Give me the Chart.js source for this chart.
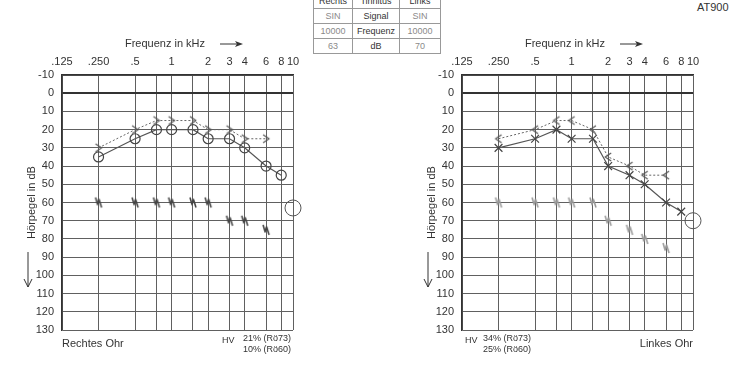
<!DOCTYPE html>
<html>
<head>
<meta charset="utf-8">
<script src="https://cdn.jsdelivr.net/npm/chart.js@4/dist/chart.umd.min.js"></script>
<style>
  body { margin:0; background:#fff; width:737px; height:379px; overflow:hidden; position:relative;
         font-family:"Liberation Sans", Arial, sans-serif; color:#333; }
  canvas { position:absolute; top:0; }
  .t { position:absolute; white-space:nowrap; line-height:1; }
  table { position:absolute; left:313px; top:-7px; border-collapse:collapse; font-size:9px; }
  td { border:1px solid #999; height:14px; padding:0; text-align:center; }
  td.v { color:#8a8a8a; }
  td.m { color:#333; }
</style>
</head>
<body>

<table>
  <tr><td class="m" style="width:38px;height:12px">Rechts</td><td class="m" style="width:46px">Tinnitus</td><td class="m" style="width:40px">Links</td></tr>
  <tr><td class="v">SIN</td><td class="m">Signal</td><td class="v">SIN</td></tr>
  <tr><td class="v">10000</td><td class="m">Frequenz</td><td class="v">10000</td></tr>
  <tr><td class="v">63</td><td class="m">dB</td><td class="v">70</td></tr>
</table>
<div class="t" style="left:697px;top:2px;font-size:11px">AT900</div>

<canvas id="right" width="370" height="379" style="left:0"></canvas>
<canvas id="left" width="337" height="379" style="left:400px"></canvas>

<div class="t" style="left:62px;top:338px;font-size:11px">Rechtes Ohr</div>
<div class="t" style="left:222px;top:336px;font-size:9px">HV</div>
<div class="t" style="left:243px;top:333px;font-size:9px;line-height:11px">21% (Rö73)<br>10% (Rö60)</div>

<div class="t" style="left:465px;top:336px;font-size:9px">HV</div>
<div class="t" style="left:483px;top:333px;font-size:9px;line-height:11px">34% (Rö73)<br>25% (Rö60)</div>
<div class="t" style="left:638px;top:338px;font-size:11px;width:55px;text-align:right">Linkes Ohr</div>

<script>
// frequencies in kHz
const FREQ = [0.25, 0.5, 0.75, 1, 1.5, 2, 3, 4, 6, 8];
const X_TICKS = [0.125, 0.25, 0.5, 0.75, 1, 1.5, 2, 3, 4, 6, 8, 10];
const X_LABELS = ['.125', '.250', '.5', '', '1', '', '2', '3', '4', '6', '8', '10'];

// Rechtes Ohr
const rightAir  = [35, 25, 20, 20, 20, 25, 25, 30, 40, 45];
const rightBone = [30, 20, 15, 15, 15, 20, 20, 25, 25];
const rightUcl  = [60, 60, 60, 60, 60, 60, 70, 70, 75];
const rightTinnitus = { freq: 10, db: 63 };

// Linkes Ohr
const leftAir  = [30, 25, 20, 25, 25, 40, 45, 50, 60, 65];
const leftBone = [25, 20, 15, 15, 20, 35, 40, 45, 45];
const leftUcl  = [60, 60, 60, 60, 60, 70, 75, 80, 85];
const leftTinnitus = { freq: 10, db: 70 };

Chart.defaults.font.family = '"Liberation Sans", Arial, sans-serif';
Chart.defaults.font.size = 11;
Chart.defaults.color = '#333';

const pts = (ys) => ys.map((y, i) => ({ x: FREQ[i], y: y }));

function symbol(w, h, draw, color, lw) {
  const c = document.createElement('canvas');
  c.width = w; c.height = h;
  const g = c.getContext('2d');
  g.strokeStyle = color; g.lineWidth = lw; g.lineJoin = 'round';
  g.beginPath(); draw(g); g.stroke();
  return c;
}
const gt = symbol(12, 12, g => { g.moveTo(3, 2); g.lineTo(9, 6); g.lineTo(3, 10); }, '#555', 1.2);
const lt = symbol(12, 12, g => { g.moveTo(9, 2); g.lineTo(3, 6); g.lineTo(9, 10); }, '#555', 1.2);
const squiggle = (col) => symbol(10, 14, g => {
  g.moveTo(2, 2); g.lineTo(4, 9); g.lineTo(5.5, 4); g.lineTo(8, 12);
}, col, 1.6);

const decor = {
  id: 'decor',
  afterDraw(chart) {
    const { ctx, chartArea: a } = chart;
    ctx.save();
    ctx.fillStyle = '#333'; ctx.strokeStyle = '#333'; ctx.lineWidth = 1;
    ctx.font = '11px "Liberation Sans", Arial, sans-serif';
    ctx.textAlign = 'center'; ctx.textBaseline = 'middle';
    ctx.fillText('Frequenz in kHz', a.left + 103, 44);
    const ax = a.left + 158;
    ctx.beginPath(); ctx.moveTo(ax, 44); ctx.lineTo(ax + 20, 44); ctx.stroke();
    ctx.beginPath(); ctx.moveTo(ax + 23, 44); ctx.lineTo(ax + 15, 41); ctx.lineTo(ax + 17, 44); ctx.lineTo(ax + 15, 47); ctx.closePath(); ctx.fill();
    // arrow down next to Hörpegel
    ctx.beginPath(); ctx.moveTo(28, 252); ctx.lineTo(28, 287); ctx.stroke();
    ctx.beginPath(); ctx.moveTo(24, 279); ctx.lineTo(28, 287); ctx.lineTo(32, 279); ctx.stroke();
    ctx.restore();
  }
};

function audiogram(id, padRight, air, bone, ucl, tin, airStyle, uclColor) {
  new Chart(document.getElementById(id), {
    type: 'line',
    data: {
      datasets: [
        {
          data: pts(bone), borderColor: '#666', borderWidth: 1, borderDash: [2, 2],
          pointStyle: bone === rightBone ? gt : lt, pointRadius: 6, tension: 0
        },
        {
          data: pts(air), borderColor: '#555', borderWidth: 1.2,
          pointStyle: airStyle, pointRadius: airStyle === 'circle' ? 5 : 5.5,
          pointBorderColor: '#444', pointBorderWidth: 1.2, pointBackgroundColor: 'rgba(0,0,0,0)', tension: 0
        },
        {
          data: pts(ucl), showLine: false, pointStyle: squiggle(uclColor), pointRadius: 6
        },
        {
          data: [{ x: tin.freq, y: tin.db }], showLine: false, clip: false,
          pointStyle: 'circle', pointRadius: 8, pointBorderColor: '#555', pointBorderWidth: 1,
          pointBackgroundColor: 'rgba(0,0,0,0)'
        }
      ]
    },
    options: {
      responsive: false,
      animation: false,
      events: [],
      layout: { padding: { left: 0, top: 0, right: padRight, bottom: 49 } },
      plugins: { legend: { display: false }, tooltip: { enabled: false } },
      scales: {
        x: {
          type: 'logarithmic', position: 'top', min: 0.125, max: 10,
          afterBuildTicks: s => { s.ticks = X_TICKS.map(v => ({ value: v })); },
          afterFit: s => { s.height = 75; },
          ticks: { autoSkip: false, maxRotation: 0, padding: 6, callback: (v, i) => X_LABELS[i] },
          grid: { color: '#606060', lineWidth: 1, drawTicks: false },
          border: { color: '#333', width: 1.5 }
        },
        y: {
          type: 'linear', reverse: true, min: -10, max: 130,
          afterFit: s => { s.width = 62; },
          ticks: { stepSize: 10, padding: 8 },
          grid: {
            drawTicks: false,
            color: c => c.tick && c.tick.value === 0 ? '#333' : '#606060',
            lineWidth: c => c.tick && c.tick.value === 0 ? 2 : 1
          },
          border: { color: '#333', width: 1.5 },
          title: { display: true, text: 'Hörpegel in dB', font: { size: 11 }, padding: { top: 25, bottom: 0 } }
        }
      }
    },
    plugins: [decor]
  });
}

audiogram('right', 77, rightAir, rightBone, rightUcl, rightTinnitus, 'circle', '#444');
audiogram('left', 44, leftAir, leftBone, leftUcl, leftTinnitus, 'crossRot', '#9a9a9a');
</script>
</body>
</html>
